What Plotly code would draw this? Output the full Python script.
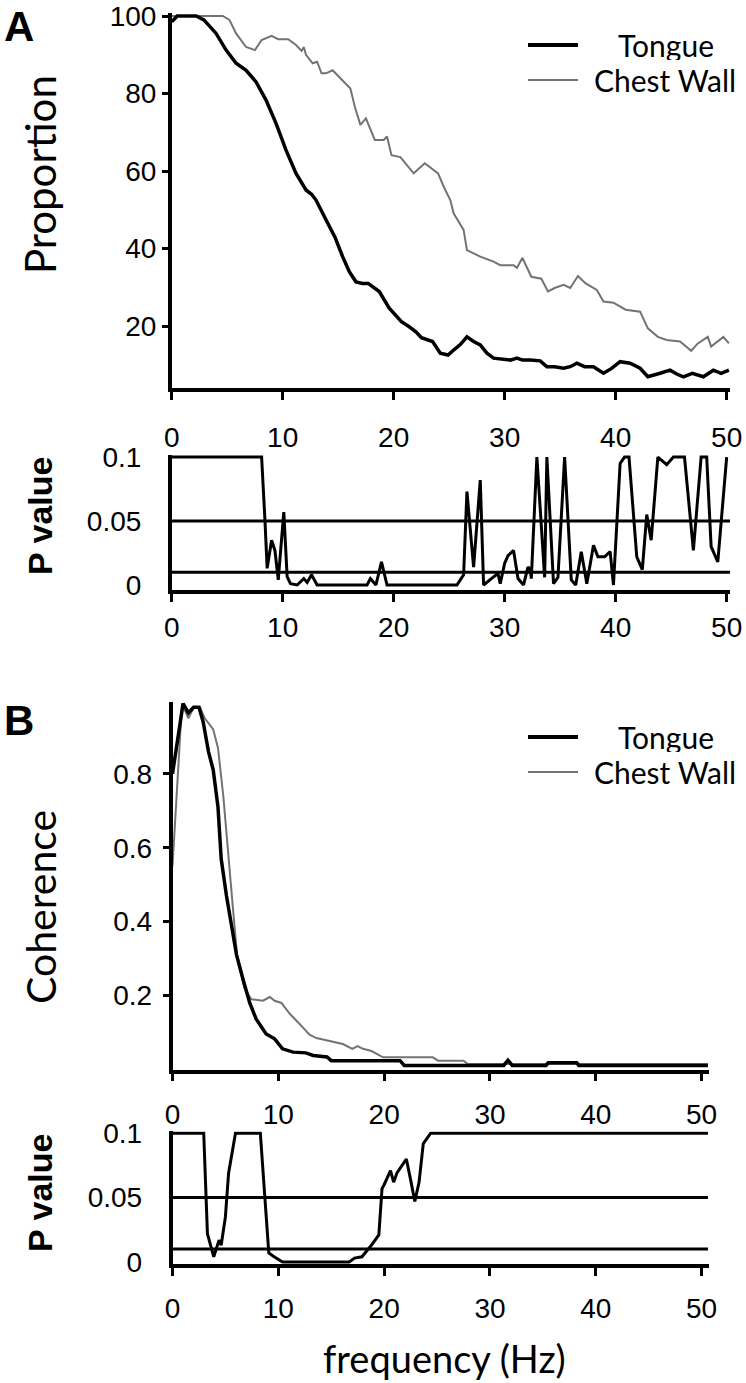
import plotly.graph_objects as go

W, H = 746, 1383

# ---------------- Panel A: proportion ----------------
a_tongue_f = [0, 0.5, 2.2, 2.9, 4.0, 4.9, 5.8, 6.7, 7.6, 8.5,
              9.4, 10.3, 11.2, 12.1, 12.6, 13.0, 13.9, 14.7, 15.4, 16.0,
              16.6, 17.2, 17.7, 18.2, 18.7, 19.6, 20.2, 20.7, 21.4, 22.0,
              22.5, 23.0, 23.5, 24.2, 24.9, 25.4, 26.0, 26.6, 27.2, 27.8,
              28.4, 29.0, 30.0, 30.5, 31.1, 31.6, 32.3, 33.2, 33.8, 34.5,
              35.3, 35.9, 36.5, 37.2, 38.0, 38.9, 39.6, 40.4, 41.3, 42.2,
              42.9, 43.5, 44.0, 44.9, 45.5, 46.1, 46.9, 47.9, 48.8, 49.5,
              50.2]
a_tongue_v = [98.5, 100, 100, 99, 95.5, 91.2, 87.8, 86, 83, 78.3,
              72.3, 65.4, 59.4, 55.1, 54, 52.5, 47.4, 43, 37.9, 34,
              31.4, 31, 31, 30, 28.9, 24.6, 22.5, 21.1, 19.8, 18.5,
              17, 16.4, 16, 13, 12.5, 13.8, 15.2, 17.2, 16, 15.1,
              13, 11.7, 11.5, 11.2, 11.7, 11.2, 11.2, 11, 9.5, 9.5,
              9.1, 9.5, 10.4, 9.5, 9.5, 7.8, 9, 10.8, 10.4, 9.1,
              6.9, 7.3, 7.8, 8.6, 7.6, 6.9, 7.8, 6.9, 8.6, 7.8,
              8.6]

a_chest_f = [0, 4.6, 5.2, 5.8, 6.7, 7.5, 8.1, 9.0, 9.6, 10.5,
             11.2, 11.7, 11.9, 12.1, 12.7, 13.1, 13.5, 13.9, 14.5, 15.1,
             16.1, 16.5, 17.0, 17.5, 18.3, 19.1, 19.4, 19.8, 20.6, 21.8,
             22.8, 24.0, 24.5, 25.1, 25.4, 26.3, 26.6, 27.8, 29.0, 29.6,
             30.8, 31.1, 31.6, 32.4, 33.3, 33.9, 34.5, 35.3, 35.9, 36.6,
             37.3, 38.3, 38.9, 39.8, 40.9, 42.2, 42.9, 43.8, 44.6, 45.8,
             46.8, 47.4, 48.3, 48.6, 49.7, 50.2]
a_chest_v = [100, 100, 99, 95.5, 92, 91.2, 93.8, 94.9, 94, 94,
             92.5, 91, 92, 90, 87.8, 88.2, 85.2, 85.2, 86, 84.3,
             81.3, 76.6, 71.9, 73.6, 68, 68, 68.9, 64.1, 63.6, 59.4,
             62, 59.4, 56, 52.5, 49.1, 44.8, 39.6, 37.9, 36.6, 35.7,
             35.7, 35, 37.6, 32.7, 32.2, 28.9, 29.8, 30.6, 29.8, 32.9,
             31, 29.3, 26.3, 26, 24.2, 23.7, 19.4, 17.2, 16.4, 16,
             13.6, 15.5, 17.2, 14.7, 17.2, 15.5]

a_p_f = [0, 8.1, 8.4, 8.6, 9.0, 9.3, 9.6, 10.1, 10.4, 10.7,
         11.3, 11.9, 12.2, 12.6, 13.1, 17.6, 17.9, 18.4, 18.9, 19.4,
         25.7, 26.3, 26.6, 27.2, 27.8, 28.1, 28.8, 29.4, 29.6, 30.0,
         30.3, 30.8, 31.2, 31.7, 32.1, 32.3, 32.4, 32.9, 33.6, 33.8,
         34.4, 34.8, 35.4, 36.0, 36.4, 36.9, 37.4, 38.0, 38.4, 39.0,
         39.5, 39.8, 40.4, 40.8, 41.2, 41.9, 42.4, 42.8, 43.2, 43.8,
         44.6, 45.2, 46.2, 47.0, 47.7, 48.2, 48.6, 49.2, 50.0]
a_p_v = [0.1, 0.1, 0.051, 0.013, 0.035, 0.027, 0.004, 0.057, 0.0065, 0.001,
         0.0, 0.005, 0.002, 0.008, 0.0, 0.0, 0.005, 0.0, 0.018, 0.0,
         0.0, 0.008, 0.073, 0.014, 0.082, 0.0, 0.005, 0.009, 0.001, 0.017,
         0.023, 0.027, 0.005, 0.0, 0.014, 0.012, 0.005, 0.1, 0.006, 0.1,
         0.001, 0.006, 0.1, 0.004, 0.0, 0.026, 0.001, 0.031, 0.022, 0.022,
         0.026, 0.0, 0.095, 0.1, 0.1, 0.022, 0.012, 0.055, 0.035, 0.1,
         0.094, 0.1, 0.1, 0.027, 0.1, 0.1, 0.03, 0.018, 0.1]

# ---------------- Panel B: coherence ----------------
b_tongue_f = [0, 1.0, 1.5, 2.0, 2.5, 2.9, 3.4, 3.85, 4.3, 4.6,
              5.1, 5.6, 6.05, 6.7, 7.3, 7.9, 8.85, 9.65, 10.4, 11.4,
              12.6, 13.3, 14.6, 15.0, 21.5, 21.9, 31.3, 31.7, 32.1, 35.3,
              35.5, 38.2, 38.4, 50.6]
b_tongue_v = [0.8, 0.99, 0.965, 0.98, 0.98, 0.94, 0.86, 0.81, 0.71, 0.57,
              0.47, 0.39, 0.31, 0.24, 0.18, 0.137, 0.096, 0.083, 0.056, 0.047,
              0.045, 0.038, 0.034, 0.024, 0.024, 0.011, 0.011, 0.025, 0.011, 0.011,
              0.018, 0.018, 0.011, 0.011]

b_chest_f = [0, 0.9, 1.5, 2.0, 2.6, 3.05, 3.85, 4.3, 4.8, 5.25,
             5.7, 6.1, 6.8, 7.45, 8.55, 9.2, 9.65, 10.3, 11.1, 11.85,
             12.95, 13.6, 14.85, 16.1, 17.0, 17.5, 18.0, 18.8, 19.9, 24.6,
             25.1, 27.5, 27.9, 50.6]
b_chest_v = [0.55, 0.99, 0.95, 0.98, 0.98, 0.95, 0.92, 0.87, 0.74, 0.58,
             0.44, 0.31, 0.22, 0.19, 0.186, 0.196, 0.186, 0.18, 0.15, 0.128,
             0.094, 0.085, 0.078, 0.069, 0.056, 0.063, 0.056, 0.05, 0.033, 0.033,
             0.024, 0.024, 0.015, 0.015]

b_p_f = [0, 2.95, 3.3, 3.9, 4.4, 4.6, 5.0, 5.3, 5.95, 8.3,
         9.1, 9.6, 10.4, 16.7, 17.2, 17.9, 18.7, 19.5, 19.8, 20.0,
         20.6, 20.9, 21.2, 21.7, 22.1, 22.5, 22.9, 23.3, 23.7, 24.4,
         50.6]
b_p_v = [0.1, 0.1, 0.022, 0.004, 0.017, 0.013, 0.035, 0.069, 0.1, 0.1,
         0.007, 0.004, 0.0, 0.0, 0.003, 0.004, 0.012, 0.021, 0.057, 0.06,
         0.071, 0.062, 0.069, 0.075, 0.08, 0.064, 0.047, 0.062, 0.092, 0.1,
         0.1]

thresholds = [0.05, 0.01]
a_fmax = 50.3
b_fmax = 50.6

x_ticks = [0, 10, 20, 30, 40, 50]
prop_ticks = [20, 40, 60, 80, 100]
coh_ticks = [0.2, 0.4, 0.6, 0.8]
p_ticks = [0, 0.05, 0.1]
p_ticktext = ["0", "0.05", "0.1"]

series_names = ["Tongue", "Chest Wall"]
BLACK = "#000000"
GRAY = "#737373"
TICKFONT = dict(family="Liberation Sans Narrow, Arial Narrow, Liberation Sans, Arial, sans-serif",
                size=28, color="black")
TITLEFONT = "Lato, Gill Sans, sans-serif"


def px(x):
    return x / W


def py(y):
    return 1 - y / H


fig = go.Figure()

fig.add_trace(go.Scatter(x=a_chest_f, y=a_chest_v, mode="lines", xaxis="x", yaxis="y",
                         line=dict(color=GRAY, width=2), name=series_names[1]))
fig.add_trace(go.Scatter(x=a_tongue_f, y=a_tongue_v, mode="lines", xaxis="x", yaxis="y",
                         line=dict(color=BLACK, width=3.5), name=series_names[0]))

for t in thresholds:
    fig.add_trace(go.Scatter(x=[0, a_fmax], y=[t, t], mode="lines", xaxis="x2", yaxis="y2",
                             line=dict(color=BLACK, width=3)))
fig.add_trace(go.Scatter(x=a_p_f, y=a_p_v, mode="lines", xaxis="x2", yaxis="y2",
                         line=dict(color=BLACK, width=3)))

fig.add_trace(go.Scatter(x=b_chest_f, y=b_chest_v, mode="lines", xaxis="x3", yaxis="y3",
                         line=dict(color=GRAY, width=2), name=series_names[1]))
fig.add_trace(go.Scatter(x=b_tongue_f, y=b_tongue_v, mode="lines", xaxis="x3", yaxis="y3",
                         line=dict(color=BLACK, width=3.5), name=series_names[0]))

for t in thresholds:
    fig.add_trace(go.Scatter(x=[0, b_fmax], y=[t, t], mode="lines", xaxis="x4", yaxis="y4",
                             line=dict(color=BLACK, width=3)))
fig.add_trace(go.Scatter(x=b_p_f, y=b_p_v, mode="lines", xaxis="x4", yaxis="y4",
                         line=dict(color=BLACK, width=3)))


def xax(domain, rng, anchor, standoff):
    return dict(domain=domain, range=rng, anchor=anchor, showline=True, linecolor="black",
                linewidth=3.5, ticks="outside", ticklen=8, tickwidth=3, tickcolor="black",
                tickvals=x_ticks, tickfont=TICKFONT, showgrid=False, zeroline=False,
                ticklabelstandoff=standoff, automargin=False, ticklabeloverflow="allow",
                fixedrange=True)


def yax(domain, rng, anchor, tickvals, ticktext, ticks, standoff):
    d = dict(domain=domain, range=rng, anchor=anchor, showline=True, linecolor="black",
             linewidth=3.5, ticks=ticks, ticklen=6, tickwidth=3, tickcolor="black",
             tickvals=tickvals, tickfont=TICKFONT, showgrid=False, zeroline=False,
             ticklabelstandoff=standoff, automargin=False, ticklabeloverflow="allow",
             fixedrange=True)
    if ticktext is not None:
        d["ticktext"] = ticktext
    return d


xa = [px(171.7), px(730)]
xb = [px(172.5), px(709)]

fig.update_layout(
    template="none",
    width=W, height=H, margin=dict(l=0, r=0, t=0, b=0, autoexpand=False),
    paper_bgcolor="white", plot_bgcolor="white", showlegend=False,
    xaxis=xax(xa, [0, a_fmax], "y", 14),
    yaxis=yax([py(388), py(12.9)], [4, 100.8], "x", prop_ticks, None, "outside", 0),
    xaxis2=xax(xa, [0, a_fmax], "y2", 2),
    yaxis2=yax([py(590.1), py(455.1)], [-0.004, 0.1015], "x2", p_ticks, p_ticktext, "", 21),
    xaxis3=xax(xb, [0, 50.7], "y3", 9),
    yaxis3=yax([py(1069.5), py(701.7)], [0, 0.995], "x3", coh_ticks, None, "outside", 5),
    xaxis4=xax(xb, [0, 50.7], "y4", 9),
    yaxis4=yax([py(1263.9), py(1131.3)], [-0.0015, 0.1015], "x4", p_ticks, p_ticktext, "", 21),
)

annotations = [
    dict(text="<b>A</b>", x=px(19), y=py(27), font=dict(family="Liberation Sans, Arial", size=42)),
    dict(text="<b>B</b>", x=px(19), y=py(720), font=dict(family="Liberation Sans, Arial", size=42)),
    dict(text="Proportion", x=px(40), y=py(175), textangle=-90, font=dict(family=TITLEFONT, size=42)),
    dict(text="<b>P value</b>", x=px(40), y=py(516), textangle=-90,
         font=dict(family="Liberation Sans, Arial", size=34)),
    dict(text="Coherence", x=px(40), y=py(907), textangle=-90, font=dict(family=TITLEFONT, size=41)),
    dict(text="<b>P value</b>", x=px(40), y=py(1193), textangle=-90,
         font=dict(family="Liberation Sans, Arial", size=34)),
    dict(text="frequency (Hz)", x=px(445), y=py(1358), font=dict(family=TITLEFONT, size=38)),
]
shapes = []
for ty in (45, 737):
    annotations.append(dict(text=series_names[0], x=px(666), y=py(ty), height=30,
                            font=dict(family=TITLEFONT, size=30)))
    annotations.append(dict(text=series_names[1], x=px(665), y=py(ty + 35), height=30,
                            font=dict(family=TITLEFONT, size=30)))
    shapes.append(dict(type="line", xref="paper", yref="paper", x0=px(528), x1=px(578), y0=py(ty), y1=py(ty),
                       line=dict(color=BLACK, width=4)))
    shapes.append(dict(type="line", xref="paper", yref="paper", x0=px(528), x1=px(578), y0=py(ty + 35),
                       y1=py(ty + 35), line=dict(color=GRAY, width=2)))

for a in annotations:
    a.update(xref="paper", yref="paper", showarrow=False, xanchor="center", yanchor="middle")
    a["font"].setdefault("color", "black")

fig.update_layout(annotations=annotations, shapes=shapes)

fig.write_html("out.html", include_plotlyjs=True, config={"displayModeBar": False},
               post_script="document.body.style.margin='0';")
